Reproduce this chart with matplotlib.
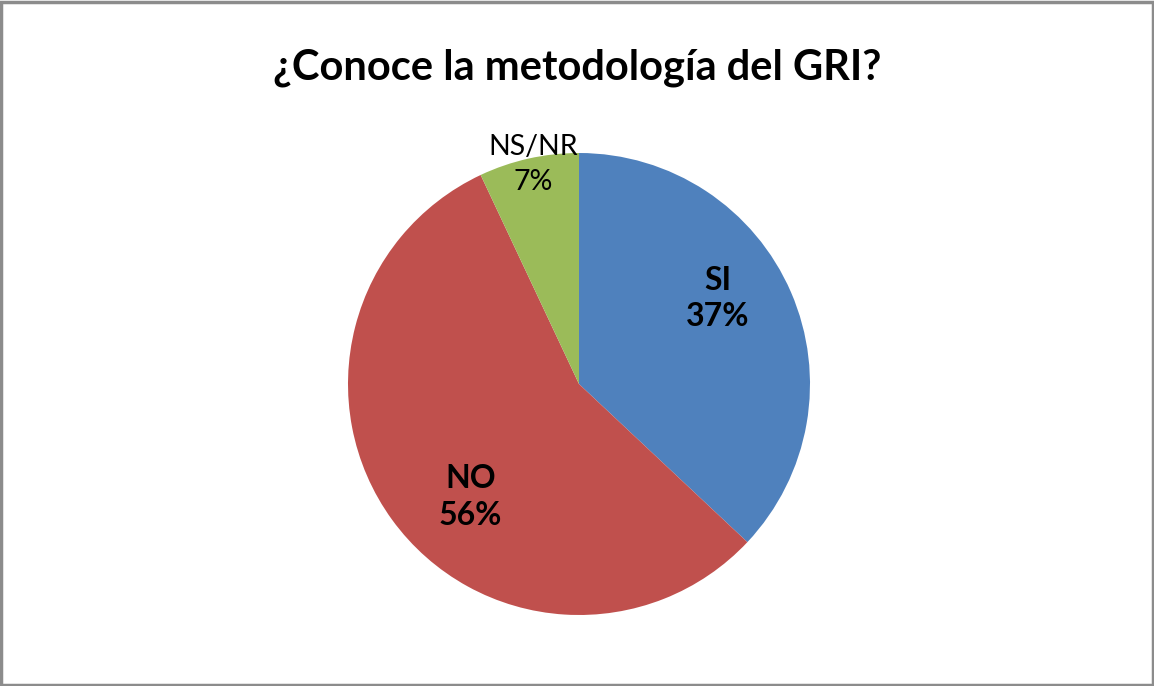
import matplotlib.pyplot as plt
from matplotlib.patches import Rectangle

# datos
categorias = ["SI", "NO", "NS/NR"]
porcentajes = [37, 56, 7]
colores = ["#4F81BD", "#C0504D", "#9BBB59"]
titulo = "¿Conoce la metodología del GRI?"

plt.rcParams['font.family'] = ['Lato', 'DejaVu Sans']

W, H = 1154, 686
fig = plt.figure(figsize=(W / 100, H / 100), dpi=100)

# marco gris del grafico
fig.patches.append(Rectangle((0.001, 0.002), 0.998, 0.995, transform=fig.transFigure,
                             fill=False, edgecolor="#8c8c8c", linewidth=2.5))

cx, cy, r = 579, 384, 231
ax = fig.add_axes([(cx - r) / W, (H - cy - r) / H, 2 * r / W, 2 * r / H])

wedges, _ = ax.pie(porcentajes, colors=colores, startangle=90, counterclock=False,
                   radius=1, wedgeprops=dict(linewidth=0))
ax.set_xlim(-1, 1)
ax.set_ylim(-1, 1)
ax.set_aspect("equal")
ax.axis("off")

# etiquetas
pos = {"SI": (0.60, 0.37), "NO": (-0.47, -0.49), "NS/NR": (-0.20, 0.95)}
tam = {"SI": 23, "NO": 23, "NS/NR": 20.5}
peso = {"SI": "bold", "NO": "bold", "NS/NR": "normal"}
esp = {"SI": 1.32, "NO": 1.32, "NS/NR": 1.4}
for cat, p in zip(categorias, porcentajes):
    x, y = pos[cat]
    ax.text(x, y, f"{cat}\n{p}%", ha="center", va="center", fontsize=tam[cat],
            fontweight=peso[cat], linespacing=esp[cat], color="black")

fig.text(0.5, 1 - 68 / H, titulo, ha="center", va="center", fontsize=30, fontweight="bold")

fig.savefig("out.png", dpi=100)
